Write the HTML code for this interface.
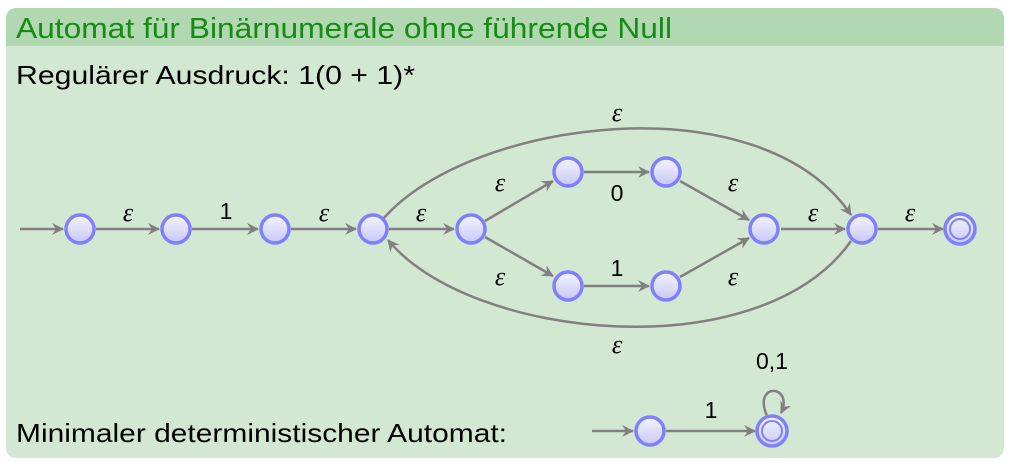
<!DOCTYPE html>
<html><head><meta charset="utf-8"><style>
body{margin:0;background:#fff;width:1012px;height:466px;overflow:hidden;font-family:"Liberation Sans","DejaVu Sans",sans-serif}
</style></head><body>
<svg width="1012" height="466" xmlns="http://www.w3.org/2000/svg">
<defs>
<linearGradient id="g" x1="0" y1="0" x2="0" y2="1"><stop offset="0" stop-color="#f4f4ff"/><stop offset="1" stop-color="#c8c8f4"/></linearGradient>
<marker id="a" markerWidth="14" markerHeight="14" refX="11" refY="6" orient="auto" markerUnits="userSpaceOnUse"><path d="M0,0 L12,6 L0,12 L4,6 Z" fill="#808080"/></marker>
<clipPath id="c"><rect x="6" y="8" width="998" height="450" rx="10"/></clipPath>
</defs>
<g clip-path="url(#c)">
<rect x="6" y="8" width="998" height="450" fill="#d3e8d2"/>
<rect x="6" y="8" width="998" height="38" fill="#b1d8b0"/>
</g>
<text x="16" y="38" font-size="29" fill="#168b16" textLength="656" lengthAdjust="spacingAndGlyphs">Automat für Binärnumerale ohne führende Null</text>
<text x="16" y="84" font-size="26" fill="#000" textLength="399" lengthAdjust="spacingAndGlyphs">Regulärer Ausdruck: 1(0 + 1)*</text>
<text x="16" y="442" font-size="26" fill="#000" textLength="491" lengthAdjust="spacingAndGlyphs">Minimaler deterministischer Automat:</text>
<g stroke="#808080" stroke-width="2.5" fill="none" marker-end="url(#a)">
<line x1="20" y1="229" x2="63" y2="229"/>
<line x1="96" y1="229" x2="159" y2="229"/>
<line x1="192" y1="229" x2="258" y2="229"/>
<line x1="291" y1="229" x2="356" y2="229"/>
<line x1="389" y1="229" x2="454" y2="229"/>
<line x1="485" y1="221" x2="553" y2="181"/>
<line x1="485" y1="237" x2="553" y2="276"/>
<line x1="584" y1="172" x2="649" y2="172"/>
<line x1="584" y1="286" x2="649" y2="286"/>
<line x1="680" y1="181" x2="749" y2="220"/>
<line x1="680" y1="277" x2="749" y2="238"/>
<line x1="781" y1="229" x2="845" y2="229"/>
<line x1="878" y1="229" x2="943" y2="229"/>
<path d="M384,218 C470,120 760,80 851,215"/>
<path d="M851,241 C760,370 470,340 388,240"/>
<line x1="592" y1="431" x2="633" y2="431"/>
<line x1="666" y1="431" x2="755" y2="431"/>
<path d="M767,416 C758,395 770,388 778,392 C785,396 785,405 781,413"/>
</g>
<g fill="url(#g)" stroke="#8080ff" stroke-width="3.5">
<circle cx="80" cy="229" r="14"/><circle cx="176" cy="229" r="14"/><circle cx="275" cy="229" r="14"/>
<circle cx="373" cy="229" r="14"/><circle cx="471" cy="229" r="14"/>
<circle cx="568" cy="172" r="14"/><circle cx="666" cy="172" r="14"/>
<circle cx="568" cy="286" r="14"/><circle cx="666" cy="286" r="14"/>
<circle cx="764" cy="229" r="14"/><circle cx="862" cy="229" r="14"/>
<circle cx="960" cy="229" r="15"/><circle cx="650" cy="431" r="14"/><circle cx="772" cy="431" r="15"/>
</g>
<g fill="none" stroke="#8080ff" stroke-width="2"><circle cx="960" cy="229" r="10"/><circle cx="772" cy="431" r="10"/></g>
<g font-size="26" fill="#000" font-family="'Liberation Serif',serif" font-style="italic" text-anchor="middle">
<text x="128" y="221">ε</text><text x="324" y="221">ε</text><text x="421" y="221">ε</text>
<text x="500" y="191">ε</text><text x="500" y="285">ε</text>
<text x="733" y="191">ε</text><text x="733" y="285">ε</text>
<text x="813" y="221">ε</text><text x="910" y="221">ε</text>
<text x="617" y="121">ε</text><text x="617" y="353">ε</text>
</g>
<g font-size="23" fill="#000" text-anchor="middle">
<text x="226" y="219">1</text><text x="617" y="201">0</text><text x="617" y="276">1</text>
<text x="711" y="418">1</text><text x="772" y="369">0,1</text>
</g>
</svg>
</body></html>
